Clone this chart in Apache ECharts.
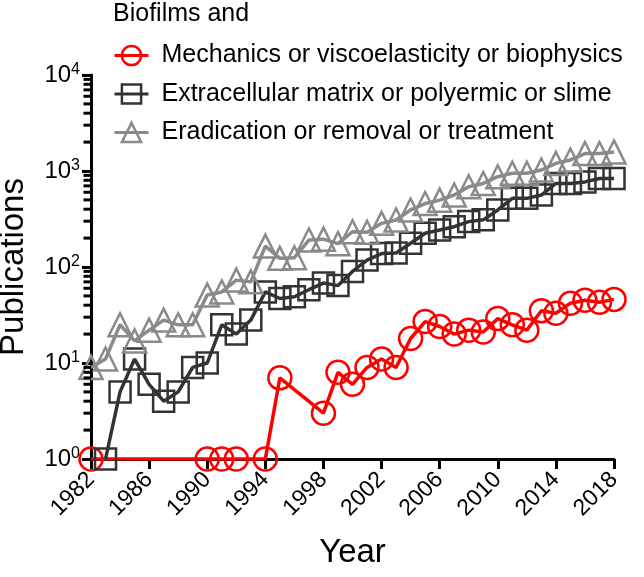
<!DOCTYPE html>
<html><head><meta charset="utf-8">
<script src="https://cdn.jsdelivr.net/npm/echarts@6/dist/echarts.min.js"></script>
<style>html,body{margin:0;padding:0;background:#fff}#c{width:644px;height:577px}</style>
</head><body><div id="c"></div>
<script>
const years = [];
for (let y = 1982; y <= 2018; y++) years.push(y);
const mechanics = [1,null,null,null,null,null,null,null,1,1,1,null,1,7,null,null,3,8,6,9,11,9,18,27,24,20,22,21,29,25,22,35,33,42,45,43,46];
const matrix = [null,1,5,11,6,4,5,9,10,25,20,28,55,47,49,58,68,64,90,118,138,140,177,225,243,263,297,310,393,519,519,562,742,742,770,835,835];
const eradication = [9,11,25,17,22,28,25,25,51,55,73,70,165,123,125,191,195,175,233,230,285,309,393,458,497,562,686,742,872,946,946,1025,1200,1303,1520,1520,1580];
const seriesNames = ['Mechanics or viscoelasticity or biophysics','Extracellular matrix or polyermic or slime','Eradication or removal or treatment'];
const legendTitle = 'Biofilms and';
const minorTickValues = [];
[1,10,100,1000].forEach(d => { for (let k = 2; k <= 9; k++) minorTickValues.push(d*k); });

const font = 'Liberation Sans, Arial, Helvetica, sans-serif';
const xMin = years[0], xMid = years[Math.floor(years.length / 2)];
function pairs(arr){ return years.map((y,i)=>[y, arr[i]]); }
function mk(name, data, color, symbol, size){
  return {
    name, type:'line', data: pairs(data), connectNulls:true,
    symbol, symbolSize:size, showSymbol:true, z:3,
    lineStyle:{color, width:3.5},
    itemStyle:{color:'rgba(255,255,255,0)', borderColor:color, borderWidth:2.5},
    emphasis:{disabled:true}, animation:false
  };
}
const chart = echarts.init(document.getElementById('c'), null, {renderer:'canvas'});
chart.setOption({
  animation:false,
  textStyle:{fontFamily:font},
  title:{text:legendTitle, left:113, top:0, padding:0, textStyle:{fontFamily:font, fontSize:25, lineHeight:28, fontWeight:'normal', color:'#000'}},
  legend:{
    orient:'vertical', left:113, top:43, padding:0, itemWidth:34, itemHeight:24, itemGap:13.5,
    lineStyle:{width:3}, itemStyle:{borderWidth:2.5},
    textStyle:{fontFamily:font, fontSize:25, lineHeight:20, color:'#000', padding:[0,0,0,8]},
    data: seriesNames
  },
  grid:{left:91, right:30, top:75, bottom:118, containLabel:false, outerBoundsMode:'none'},
  xAxis:{
    type:'value', min:1982, max:2018, interval:4,
    name:'Year', nameLocation:'middle', nameGap:77,
    nameTextStyle:{fontFamily:font, fontSize:33, color:'#000'},
    axisLine:{lineStyle:{color:'#000', width:3}},
    axisTick:{show:true, length:10, lineStyle:{color:'#000', width:3}},
    axisLabel:{rotate:45, fontSize:23, color:'#000', fontFamily:font, margin:17, hideOverlap:false, formatter: v => String(v)},
    splitLine:{show:false}
  },
  yAxis:{
    type:'log', logBase:10, min:1, max:10000,
    name:'Publications', nameLocation:'middle', nameGap:61,
    nameTextStyle:{fontFamily:font, fontSize:33, color:'#000'},
    axisLine:{show:true, lineStyle:{color:'#000', width:3}},
    axisTick:{show:true, length:9, lineStyle:{color:'#000', width:3}},
    axisLabel:{
      color:'#000', fontFamily:font, margin:11,
      formatter: v => '{b|10}{s|' + Math.round(Math.log10(v)) + '}',
      rich:{b:{fontSize:24, fontFamily:font, color:'#000'}, s:{fontSize:16, fontFamily:font, color:'#000', verticalAlign:'top', padding:[0,0,10,0]}}
    },
    splitLine:{show:false}
  },
  series:[
    {
      type:'custom', name:'minor ticks', silent:true, clip:false, z:10,
      data: minorTickValues.map(v => [xMid, v]),
      renderItem: (params, api) => {
        const p = api.coord([xMin, api.value(1)]);
        return {type:'line', shape:{x1:p[0]-7.5, y1:p[1], x2:p[0], y2:p[1]}, style:{stroke:'#000', lineWidth:3}};
      }
    },
    mk(seriesNames[0], mechanics, '#ff0000', 'circle', 23),
    mk(seriesNames[1], matrix, '#333333', 'rect', 21),
    mk(seriesNames[2], eradication, '#8a8a8a', 'triangle', 23)
  ]
});
</script></body></html>
